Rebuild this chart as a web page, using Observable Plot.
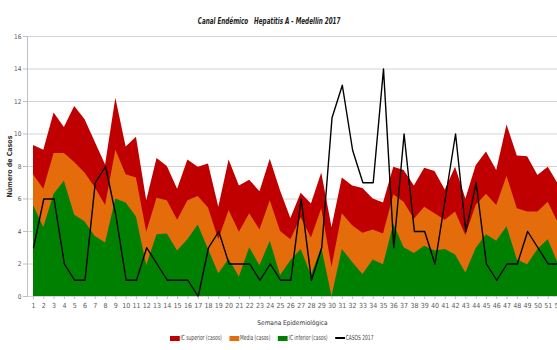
<!DOCTYPE html>
<html>
<head>
<meta charset="utf-8">
<script src="https://cdn.jsdelivr.net/npm/d3@7"></script>
<script src="https://cdn.jsdelivr.net/npm/@observablehq/plot@0.6"></script>
<style>
  html, body { margin: 0; padding: 0; background: #fff; }
  #wrap { position: relative; width: 557px; height: 350px; overflow: hidden; font-family: "Liberation Sans Narrow", "DejaVu Sans Condensed", sans-serif; }
  #title { position: absolute; top: 9px; left: 0; width: 538px; text-align: center; }
  #title span { display: inline-block; font-size: 9.5px; font-weight: bold; font-style: italic; white-space: pre; color: #222; transform: scaleX(0.66); transform-origin: center; }
  #legend { position: absolute; top: 334px; left: 170px; display: flex; align-items: center; font-size: 7px; color: #444; transform: scaleX(0.70); transform-origin: left center; white-space: nowrap; }
  .item { display: flex; align-items: center; margin-right: 11px; }
  .sw { width: 14px; height: 5px; margin-right: 1px; }
  .ln { width: 14px; height: 1.5px; background: #000; margin-right: 1px; }
</style>
</head>
<body>
<div id="wrap">
  <div id="chart"></div>
  <div id="title"><span>Canal Endémico   Hepatitis A - Medellín 2017</span></div>
  <div id="legend"></div>
</div>
<script>
const weeks = [1,2,3,4,5,6,7,8,9,10,11,12,13,14,15,16,17,18,19,20,21,22,23,24,25,26,27,28,29,30,31,32,33,34,35,36,37,38,39,40,41,42,43,44,45,46,47,48,49,50,51,52];
const icSuperior = [9.3,9.0,11.3,10.4,11.7,10.9,9.5,8.1,12.2,9.2,9.8,5.9,8.5,8.0,6.6,8.4,7.95,8.15,5.5,8.4,6.8,7.15,6.45,8.45,6.5,4.8,6.35,5.7,7.6,4.25,7.3,6.8,6.65,6.0,5.75,7.95,7.75,6.8,7.9,7.7,6.55,7.95,6.0,8.05,8.9,7.75,10.55,8.65,8.6,7.45,7.95,6.9];
const media = [7.5,6.6,8.8,8.8,8.25,7.6,6.7,5.6,9.0,7.5,7.3,3.95,6.05,5.9,4.7,5.9,6.15,5.45,3.5,5.3,3.95,5.1,4.1,5.9,4.0,3.5,4.85,3.6,5.4,1.8,5.1,4.35,3.9,4.1,3.85,6.25,5.8,4.75,5.5,5.1,4.7,5.2,3.75,5.6,6.3,5.6,7.4,5.4,5.2,5.2,5.8,4.5];
const icInferior = [5.6,4.25,6.3,7.1,5.0,4.6,3.7,3.3,6.0,5.75,4.9,1.9,3.8,3.85,2.8,3.5,4.4,2.9,1.4,2.3,1.2,3.0,1.9,3.4,1.3,2.2,2.9,1.3,3.0,0,2.9,2.1,1.35,2.25,1.95,4.45,3.0,2.65,3.1,2.8,2.9,2.55,1.45,2.95,3.8,3.4,4.3,2.25,1.95,2.9,3.5,2.0];
const casos2017 = [3,6,6,2,1,1,7,8,5,1,1,3,2,1,1,1,0,3,4,2,2,2,1,2,1,1,6,1,3,11,13,9,7,7,14,3,10,4,4,2,6,10,4,7,2,1,2,2,4,3,2,2];
const yTicks = [0,2,4,6,8,10,12,14,16];
const seriesNames = ["IC superior (casos)", "Media (casos)", "IC inferior (casos)", "CASOS 2017"];
const seriesColors = ["#C00000", "#E46C0A", "#008000", "#000000"];

const rows = weeks.map((w, i) => ({week: w, sup: icSuperior[i], med: media[i], inf: icInferior[i], casos: casos2017[i]}));

const fontFam = '"Liberation Sans Narrow", "DejaVu Sans Condensed", sans-serif';

const chart = Plot.plot({
  width: 557,
  height: 350,
  marginLeft: 27,
  marginRight: 0,
  marginTop: 36,
  marginBottom: 54,
  style: {fontFamily: fontFam, fontSize: "7px", color: "#595959", background: "white"},
  x: {domain: [1, 52], range: [33, 558]},
  y: {domain: [0, 16]},
  marks: [
    Plot.gridY(yTicks, {stroke: "#d4d4d4", strokeOpacity: 1, strokeWidth: 1}),
    Plot.areaY(rows, {x: "week", y1: 0, y2: "sup", fill: seriesColors[0]}),
    Plot.areaY(rows, {x: "week", y1: 0, y2: "med", fill: seriesColors[1]}),
    Plot.areaY(rows, {x: "week", y1: 0, y2: "inf", fill: seriesColors[2]}),
    Plot.lineY(rows, {x: "week", y: "casos", stroke: seriesColors[3], strokeWidth: 1.4}),
    Plot.frame({anchor: "left", stroke: "#bfbfbf"}),
    Plot.axisY({ticks: yTicks, tickSize: 4, tickPadding: 2, stroke: "#bfbfbf", fill: "#595959", fontSize: 6.5,
      label: "Número de Casos", labelAnchor: "center", labelArrow: "none", labelOffset: 20}),
    Plot.axisX({ticks: weeks, tickSize: 3, tickPadding: 4, stroke: "#bfbfbf", fill: "#595959",
      label: "Semana Epidemiológica", labelAnchor: "center", labelArrow: "none", labelOffset: 28})
  ]
});
document.getElementById("chart").appendChild(chart);

d3.select(chart).selectAll("[aria-label='y-axis label'] text").attr("font-weight", "bold").attr("font-size", "7px").attr("fill", "#333");
d3.select(chart).selectAll("[aria-label='x-axis label'] text").attr("font-size", "6.5px").attr("fill", "#333");

const legend = d3.select("#legend");
seriesNames.forEach((name, i) => {
  const it = legend.append("div").attr("class", "item");
  it.append("div").attr("class", i === 3 ? "ln" : "sw").style("background", seriesColors[i]);
  it.append("span").text(name);
});
</script>
</body>
</html>
